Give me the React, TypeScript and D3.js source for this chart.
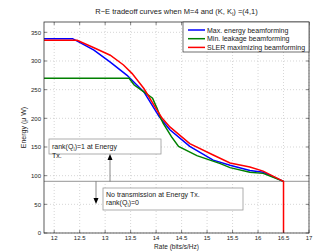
import React from "react";
import * as d3 from "d3";

const blueX = [11.8, 12.36, 12.49, 12.78, 13.1, 13.43, 13.76, 14.06, 14.27, 14.66, 15.12, 15.45, 15.84, 16.1, 16.5];
const blueY = [339, 339, 333, 319, 298, 275, 246, 203, 180, 151, 127, 118, 109, 106, 90];
const redX = [11.8, 12.45, 12.78, 13.1, 13.36, 13.53, 13.76, 14.02, 14.12, 14.27, 14.66, 15.12, 15.45, 15.84, 16.1, 16.5, 16.5];
const redY = [336, 336, 323, 310, 293, 278, 252, 214, 200, 185, 156, 136, 122, 115, 108, 90, 0];
const greenX = [11.8, 13.47, 13.57, 13.76, 13.93, 14.02, 14.09, 14.14, 14.3, 14.44, 14.8, 15.26, 15.45, 15.84, 16.1, 16.5];
const greenY = [270, 270, 258, 246, 235, 217, 200, 191, 168, 151, 135, 121, 114, 106, 104, 90];

const xTicks = [12, 12.5, 13, 13.5, 14, 14.5, 15, 15.5, 16, 16.5, 17];
const yTicks = [0, 50, 100, 150, 200, 250, 300, 350];
const legendLabels = ["Max. energy beamforming", "Min. leakage beamforming", "SLER maximizing beamforming"];
const colors = ["#0000ff", "#008000", "#ff0000"];
const thresholdY = 90;

const W = 318, H = 251;
const L = 44, R = 309, T = 22, B = 233;
const font = "'Liberation Sans', Arial, Helvetica, sans-serif";

export default function App() {
  const x = d3.scaleLinear().domain([11.8, 17]).range([L, R]);
  const y = d3.scaleLinear().domain([0, 368]).range([B, T]);
  const line = d3.line<[number, number]>().x(d => x(d[0])).y(d => y(d[1]));
  const series = [
    { xs: blueX, ys: blueY, c: colors[0] },
    { xs: greenX, ys: greenY, c: colors[1] },
    { xs: redX, ys: redY, c: colors[2] },
  ];
  const yt = y(thresholdY);
  return (
    <svg width={W} height={H} style={{ position: "absolute", left: 0, top: 0, background: "#fff" }} fontFamily={font}>
      <rect x={0} y={0} width={W} height={H} fill="#fff" />
      <rect x={L} y={T} width={R - L} height={B - T} fill="#fff" />
      {xTicks.map(t => (
        <line key={"gx" + t} x1={x(t)} x2={x(t)} y1={T} y2={B} stroke="#bbb" strokeWidth={0.6} strokeDasharray="1,2" />
      ))}
      {yTicks.map(t => (
        <line key={"gy" + t} x1={L} x2={R} y1={y(t)} y2={y(t)} stroke="#bbb" strokeWidth={0.6} strokeDasharray="1,2" />
      ))}
      <line x1={L} x2={R} y1={yt} y2={yt} stroke="#aaa" strokeWidth={1.3} />
      {series.map((s, i) => (
        <path key={i} d={line(s.xs.map((v, j) => [v, s.ys[j]] as [number, number])) || ""} fill="none" stroke={s.c} strokeWidth={1.5} />
      ))}
      <rect x={L} y={T} width={R - L} height={B - T} fill="none" stroke="#333" strokeWidth={0.8} />
      {xTicks.map(t => (
        <g key={"tx" + t}>
          <line x1={x(t)} x2={x(t)} y1={B} y2={B - 3} stroke="#333" strokeWidth={0.6} />
          <line x1={x(t)} x2={x(t)} y1={T} y2={T + 3} stroke="#333" strokeWidth={0.6} />
          <text x={x(t)} y={B + 7} fontSize={6} textAnchor="middle" fill="#222">{t}</text>
        </g>
      ))}
      {yTicks.map(t => (
        <g key={"ty" + t}>
          <line x1={L} x2={L + 3} y1={y(t)} y2={y(t)} stroke="#333" strokeWidth={0.6} />
          <line x1={R} x2={R - 3} y1={y(t)} y2={y(t)} stroke="#333" strokeWidth={0.6} />
          <text x={L - 3} y={y(t) + 2.2} fontSize={6} textAnchor="end" fill="#222">{t}</text>
        </g>
      ))}
      <text x={(L + R) / 2} y={14} fontSize={7.5} textAnchor="middle" fill="#222">
        R−E tradeoff curves when M=4 and (K, K<tspan fontSize={5} dy={2}>I</tspan><tspan dy={-2}>) =(4,1)</tspan>
      </text>
      <text x={(L + R) / 2} y={248.5} fontSize={6.5} textAnchor="middle" fill="#222">Rate (bits/s/Hz)</text>
      <text transform={`translate(26,${(T + B) / 2}) rotate(-90)`} fontSize={7} textAnchor="middle" fill="#222">Energy (μ W)</text>
      {/* legend */}
      <rect x={183} y={T} width={R - 183} height={30} fill="#fff" stroke="#333" strokeWidth={0.7} />
      {legendLabels.map((lab, i) => (
        <g key={lab}>
          <line x1={188} x2={205} y1={30 + i * 8.7} y2={30 + i * 8.7} stroke={colors[i]} strokeWidth={1.5} />
          <text x={207} y={32.5 + i * 8.7} fontSize={7} fill="#222">{lab}</text>
        </g>
      ))}
      {/* annotation 1 */}
      <rect x={49} y={139} width={112} height={15} fill="#fff" stroke="#999" strokeWidth={0.8} />
      <text x={52} y={149} fontSize={7} fill="#222">
        rank(Q<tspan fontSize={4.5} dy={1.5}>I</tspan><tspan dy={-1.5}>)=1 at Energy</tspan>
      </text>
      <text x={52} y={158} fontSize={7} fill="#222">Tx.</text>
      <line x1={110} x2={110} y1={yt} y2={159} stroke="#555" strokeWidth={0.7} />
      <path d={`M107.5,160 L112.5,160 L110,154 Z`} fill="#000" />
      <line x1={96} x2={96} y1={yt} y2={199} stroke="#555" strokeWidth={0.7} />
      <path d={`M93.5,198 L98.5,198 L96,204 Z`} fill="#000" />
      {/* annotation 2 */}
      <rect x={103} y={188} width={140} height={22} fill="#fff" stroke="#999" strokeWidth={0.8} />
      <text x={106} y={197} fontSize={7} fill="#222">No transmission at Energy Tx.</text>
      <text x={106} y={205} fontSize={7} fill="#222">
        rank(Q<tspan fontSize={4.5} dy={1.5}>I</tspan><tspan dy={-1.5}>)=0</tspan>
      </text>
    </svg>
  );
}
